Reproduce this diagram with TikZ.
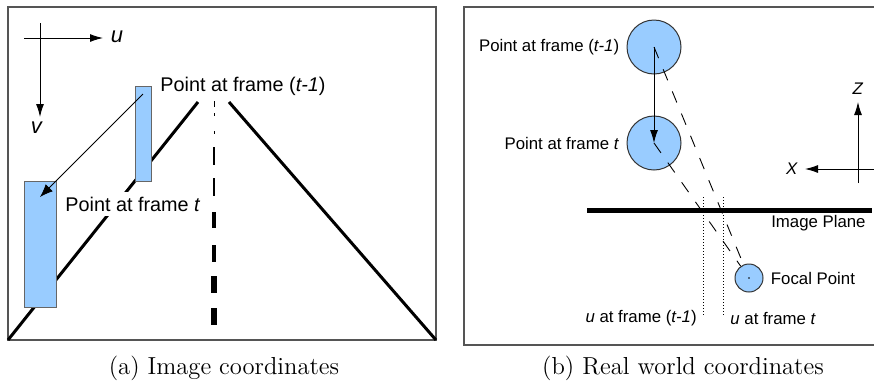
\documentclass[tikz,border=0pt]{standalone}
\usepackage{fontspec}
\newfontfamily\arialfont{Liberation Sans}
\usetikzlibrary{arrows.meta,positioning}
\definecolor{ptblue}{HTML}{99CCFF}
\definecolor{panelgray}{HTML}{555555}
\begin{document}
\begin{tikzpicture}[
    x=0.5pt, y=-0.5pt,
    panel/.style={
        draw=panelgray,
        line width=0.6pt
    },
    road/.style={
        line width=1.5pt,
        black
    },
    ptbox/.style={
        rectangle,
        draw=gray!80!black,
        fill=ptblue,
        line width=0.5pt,
        inner sep=0pt
    },
    ptdisc/.style={
        circle,
        draw=black!80,
        fill=ptblue,
        line width=0.5pt,
        inner sep=0pt
    },
    biglabel/.style={
        font=\arialfont\fontsize{9.9}{12}\selectfont,
        inner sep=0pt
    },
    smalllabel/.style={
        font=\arialfont\fontsize{8.4}{10}\selectfont,
        inner sep=0pt
    },
    axis/.style={
        line width=0.5pt,
        -{Latex[length=6.5pt,width=4pt]}
    },
    ray/.style={
        dash pattern=on 6pt off 6pt,
        line width=0.45pt
    },
    caption/.style={
        font=\fontsize{12.3}{15}\selectfont
    }
]

\useasboundingbox (0,0) rectangle (874,381);

% Panel (a)
\draw[panel] (8,7) rectangle (436,340);

% Bordes de la carretera
\draw[road] (8,340) -- (198,102);
\draw[road] (229,102) -- (436,340);

% Linea central
\foreach \ya/\yb/\w in {101/107/0.5pt, 113/116/0.5pt, 131/134/0.5pt,
    147/165/0.6pt, 178/196/0.8pt, 212/228/2pt, 245/262/2.2pt,
    276/293/3.2pt, 308/325/3.4pt}
    \draw[line width=\w] (214,\ya) -- (214,\yb);

% Ejes u, v
\draw[axis] (24,38) -- (103,38);
\draw[axis] (40,23) -- (40,117);
\node[biglabel, font=\arialfont\fontsize{11}{13}\selectfont] (ulbl) at (117,37) {\textit{u}};
\node[biglabel, font=\arialfont\fontsize{11}{13}\selectfont] (vlbl) at (37,128) {\textit{v}};

% Puntos
\node[ptbox, minimum width=8pt, minimum height=47.5pt] (prevbox) at (143,133.5) {};
\node[ptbox, minimum width=16pt, minimum height=63pt] (curbox) at (40,244) {};
\coordinate (prevpt) at (143,94);
\coordinate (curpt) at (40,197);
\draw[line width=0.4pt, -{Latex[length=6.5pt,width=5pt]}] (prevpt) -- (curpt);

\node[biglabel, anchor=west] (prevlbl) at (160,86) {Point at frame (\textit{t-1})};
\node[biglabel, anchor=west, fill=white, inner xsep=1pt, inner ysep=2.5pt] (curlbl) at (63,204) {Point at frame \textit{t}};

\node[caption] (capa) at (224,368) {(a) Image coordinates};

% Panel (b)
\draw[panel] (874,7) -- (464,7) -- (464,345) -- (874,345);

% Plano de imagen
\draw[line width=2.5pt] (587,210) -- (872,210);
\node[smalllabel, anchor=east] (planelbl) at (866,223) {Image Plane};

% Ejes X, Z
\draw[axis] (858,183) -- (858,102);
\draw[axis] (874,169) -- (805,169);
\node[smalllabel] (zlbl) at (858,89) {\textit{Z}};
\node[smalllabel] (xlbl) at (792,169) {\textit{X}};

% Puntos y punto focal
\node[ptdisc, minimum size=27pt] (prevdisc) at (654,47) {};
\node[ptdisc, minimum size=27pt] (curdisc) at (654,143) {};
\node[ptdisc, minimum size=14pt] (focal) at (749,278) {};
\fill (focal.center) circle (0.4pt);

\draw[axis] (prevdisc.center) -- (curdisc.center);
\draw[ray] (prevdisc.center) -- (focal);
\draw[ray] (curdisc.center) -- (focal);

\node[smalllabel, left=3.5pt of prevdisc] (prevdisclbl) {Point at frame (\textit{t-1})};
\node[smalllabel, left=3.5pt of curdisc] (curdisclbl) {Point at frame \textit{t}};
\node[smalllabel, right=3.5pt of focal] (focallbl) {Focal Point};

% Proyecciones u
\draw[dash pattern=on 0.5pt off 1pt, line width=0.4pt] (703,197) -- (703,317);
\draw[dash pattern=on 0.5pt off 1pt, line width=0.4pt] (723,197) -- (723,317);
\node[smalllabel, anchor=east] (uprevlbl) at (697,318) {\textit{u} at frame (\textit{t-1})};
\node[smalllabel, anchor=west] (ucurlbl) at (730,318) {\textit{u} at frame \textit{t}};

\node[caption] (capb) at (683,368) {(b) Real world coordinates};

\end{tikzpicture}
\end{document}
